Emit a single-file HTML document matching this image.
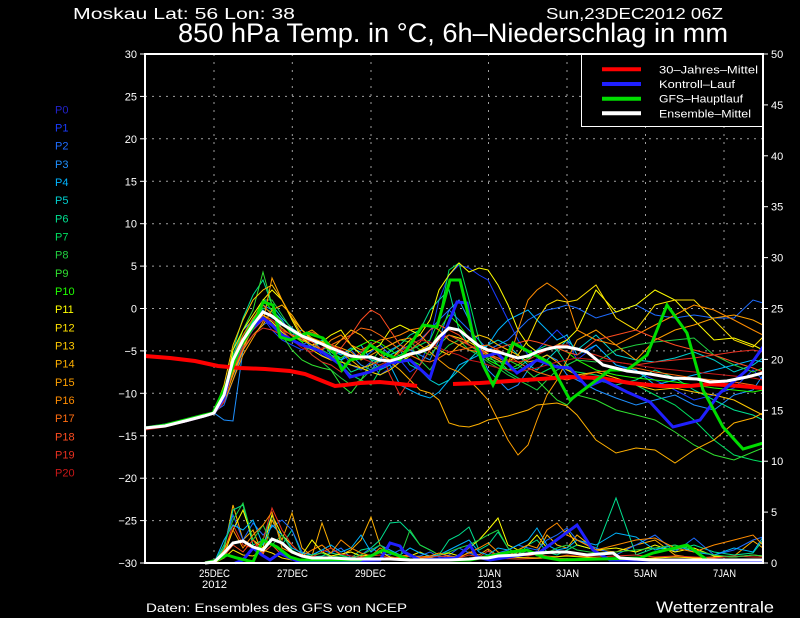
<!DOCTYPE html>
<html><head><meta charset="utf-8"><style>
html,body{margin:0;padding:0;background:#000;}
svg{display:block;}
text{font-family:"Liberation Sans",sans-serif;fill:#fff;}
</style></head><body>
<svg width="800" height="618" viewBox="0 0 800 618" xmlns="http://www.w3.org/2000/svg">
<rect x="0" y="0" width="800" height="618" fill="#000"/>
<!-- titles -->
<text x="73" y="19" font-size="16" textLength="222" lengthAdjust="spacingAndGlyphs">Moskau  Lat: 56 Lon: 38</text>
<text x="546" y="19" font-size="16" textLength="177" lengthAdjust="spacingAndGlyphs">Sun,23DEC2012 06Z</text>
<text x="178" y="42" font-size="27" textLength="550" lengthAdjust="spacingAndGlyphs">850 hPa Temp. in °C, 6h–Niederschlag in mm</text>
<!-- grid -->
<g stroke="#a0a0a0" stroke-width="1" stroke-dasharray="2 5" fill="none">
<line x1="145" y1="96.4" x2="763" y2="96.4"/>
<line x1="145" y1="138.8" x2="763" y2="138.8"/>
<line x1="145" y1="181.3" x2="763" y2="181.3"/>
<line x1="145" y1="223.7" x2="763" y2="223.7"/>
<line x1="145" y1="266.1" x2="763" y2="266.1"/>
<line x1="145" y1="308.5" x2="763" y2="308.5"/>
<line x1="145" y1="350.9" x2="763" y2="350.9"/>
<line x1="145" y1="393.3" x2="763" y2="393.3"/>
<line x1="145" y1="435.8" x2="763" y2="435.8"/>
<line x1="145" y1="478.2" x2="763" y2="478.2"/>
<line x1="145" y1="520.6" x2="763" y2="520.6"/>
</g>
<g stroke="#a0a0a0" stroke-width="1" stroke-dasharray="2 6" fill="none">
<line x1="214" y1="54" x2="214" y2="563"/>
<line x1="292.3" y1="54" x2="292.3" y2="563"/>
<line x1="371" y1="54" x2="371" y2="563"/>
<line x1="488.5" y1="54" x2="488.5" y2="563"/>
<line x1="567" y1="54" x2="567" y2="563"/>
<line x1="645.5" y1="54" x2="645.5" y2="563"/>
<line x1="724" y1="54" x2="724" y2="563"/>
</g>
<!-- thin ensemble temperature lines -->
<g fill="none" stroke-width="1" stroke-linejoin="miter">
<polyline stroke="#1a3cff" points="145,428 165,425 185,421 204,416 214,414 224,400 233,370 243,345 253,330 263,318 272,330 282,340 292,345 302,350 312,345 322,355 331,360 341,350 351,365 361,370 371,362 380,375 390,368 400,360 410,372 420,365 430,340 439,300 449,275 459,265 469,268 479,275 488,280 498,300 508,320 518,340 528,355 537,350 547,340 557,330 567,340 577,360 596,345 616,365 636,372 655,380 675,390 694,400 714,395 734,388 753,370 763,380"/>
<polyline stroke="#1e6cff" points="145,429 165,426 185,422 204,416 214,412 224,405 233,380 243,350 253,335 263,325 272,320 282,330 292,340 302,345 312,340 322,350 331,345 341,355 351,350 361,360 371,352 380,345 390,355 400,350 410,345 420,340 430,330 439,320 449,310 459,320 469,330 479,340 488,350 498,345 508,340 518,330 528,320 537,315 547,310 557,308 567,305 577,308 596,318 616,312 636,305 655,315 675,318 694,315 714,318 734,318 753,300 763,303"/>
<polyline stroke="#1e90ff" points="145,428 165,425 185,421 204,417 214,413 224,420 233,421 243,350 253,320 263,305 272,310 282,320 292,335 302,330 312,340 322,345 331,350 341,360 351,355 361,365 371,370 380,360 390,350 400,345 410,350 420,355 430,360 439,340 449,310 459,300 469,320 479,350 488,370 498,380 508,390 518,385 528,370 537,360 547,355 557,360 567,375 577,380 596,390 616,398 636,405 655,400 675,395 694,405 714,410 734,395 753,390 763,375"/>
<polyline stroke="#00b4ff" points="145,429 165,426 185,421 204,416 214,412 224,390 233,355 243,330 253,320 263,310 272,318 282,322 292,332 302,338 312,348 322,340 331,355 341,360 351,350 361,345 371,360 380,370 390,365 400,385 410,390 420,395 430,398 439,392 449,380 459,365 469,360 479,355 488,345 498,330 508,320 518,315 528,310 537,320 547,330 557,340 567,335 577,355 596,345 616,365 636,370 655,385 675,380 694,375 714,370 734,365 753,360 763,362"/>
<polyline stroke="#00d0d0" points="145,428 165,425 185,420 204,416 214,414 224,395 233,365 243,340 253,322 263,300 272,305 282,318 292,328 302,335 312,338 322,345 331,350 341,355 351,348 361,352 371,360 380,362 390,355 400,350 410,365 420,370 430,380 439,385 449,380 459,370 469,360 479,350 488,345 498,340 508,345 518,355 528,365 537,370 547,360 557,350 567,340 577,350 596,335 616,355 636,360 655,362 675,358 694,352 714,360 734,372 753,365 763,358"/>
<polyline stroke="#00e090" points="145,428 165,425 185,421 204,416 214,413 224,398 233,350 243,318 253,295 263,280 272,305 282,330 292,340 302,345 312,350 322,340 331,352 341,360 351,372 361,368 371,365 380,358 390,352 400,345 410,335 420,330 430,310 439,300 449,290 459,330 469,345 479,350 488,355 498,360 508,370 518,368 528,360 537,350 547,345 557,350 567,365 577,375 596,380 616,385 636,380 655,370 675,378 694,390 714,400 734,410 753,415 763,420"/>
<polyline stroke="#00e060" points="145,429 165,425 185,421 204,416 214,413 224,392 233,355 243,335 253,320 263,308 272,312 282,325 292,332 302,340 312,345 322,350 331,355 341,365 351,375 361,380 371,385 380,370 390,360 400,355 410,350 420,345 430,340 439,320 449,270 459,263 469,300 479,340 488,355 498,365 508,372 518,378 528,382 537,375 547,370 557,365 567,370 577,372 596,375 616,380 636,385 655,395 675,405 694,420 714,440 734,455 753,460 763,462"/>
<polyline stroke="#20d040" points="145,428 165,426 185,421 204,416 214,414 224,400 233,368 243,342 253,325 263,300 272,300 282,315 292,330 302,342 312,355 322,362 331,370 341,378 351,385 361,380 371,370 380,365 390,360 400,352 410,345 420,360 430,370 439,355 449,345 459,340 469,350 479,355 488,362 498,368 508,375 518,380 528,385 537,390 547,380 557,370 567,365 577,360 596,362 616,350 636,345 655,342 675,340 694,338 714,355 734,365 753,372 763,368"/>
<polyline stroke="#30e030" points="145,428 165,425 185,421 204,416 214,413 224,395 233,358 243,330 253,310 263,272 272,305 282,335 292,350 302,360 312,365 322,368 331,370 341,385 351,393 361,380 371,362 380,350 390,345 400,340 410,342 420,350 430,355 439,345 449,335 459,340 469,345 479,352 488,358 498,362 508,360 518,365 528,372 537,380 547,390 557,400 567,405 577,395 596,400 616,410 636,415 655,420 675,432 694,445 714,455 734,460 753,452 763,448"/>
<polyline stroke="#20ff00" points="145,427 165,425 185,420 204,415 214,412 224,398 233,360 243,338 253,320 263,300 272,310 282,322 292,335 302,342 312,338 322,345 331,352 341,358 351,350 361,345 371,340 380,343 390,350 400,356 410,360 420,365 430,350 439,330 449,315 459,325 469,338 479,350 488,360 498,365 508,370 518,365 528,358 537,352 547,350 557,348 567,352 577,360 596,370 616,375 636,378 655,380 675,382 694,385 714,388 734,390 753,392 763,390"/>
<polyline stroke="#ffff00" points="145,428 165,425 185,420 204,415 214,413 224,395 233,350 243,330 253,315 263,300 272,290 282,300 292,320 302,338 312,345 322,342 331,335 341,330 351,345 361,355 371,350 380,345 390,330 400,325 410,330 420,335 430,320 439,290 449,275 459,263 469,272 479,268 488,270 498,285 508,305 518,330 528,345 537,352 547,350 557,345 567,340 577,330 596,290 616,312 636,305 655,290 675,300 694,320 714,340 734,338 753,345 763,350"/>
<polyline stroke="#ffe000" points="145,429 165,426 185,422 204,417 214,414 224,400 233,372 243,348 253,328 263,315 272,322 282,332 292,340 302,345 312,350 322,356 331,360 341,362 351,365 361,368 371,372 380,375 390,370 400,362 410,356 420,350 430,345 439,340 449,335 459,338 469,342 479,348 488,354 498,358 508,362 518,355 528,340 537,320 547,305 557,300 567,302 577,300 596,285 616,318 636,330 655,305 675,300 694,300 714,320 734,340 753,347 763,337"/>
<polyline stroke="#ffc800" points="145,428 165,425 185,420 204,415 214,412 224,385 233,345 243,320 253,300 263,290 272,285 282,300 292,318 302,330 312,340 322,345 331,350 341,340 351,330 361,335 371,345 380,355 390,360 400,350 410,340 420,335 430,345 439,350 449,355 459,345 469,340 479,335 488,338 498,345 508,350 518,355 528,362 537,360 547,355 557,362 567,370 577,375 596,372 616,378 636,385 655,390 675,388 694,392 714,395 734,400 753,410 763,415"/>
<polyline stroke="#ffb000" points="145,429 165,426 185,421 204,416 214,413 224,400 233,375 243,350 253,335 263,325 272,310 282,305 292,315 302,330 312,338 322,342 331,345 341,352 351,360 361,368 371,365 380,360 390,362 400,370 410,380 420,390 430,393 439,400 449,423 459,426 469,427 479,424 488,420 498,418 508,416 518,413 528,410 537,405 547,404 557,403 567,406 577,415 596,440 616,453 636,448 655,450 675,463 694,450 714,440 734,423 753,418 763,413"/>
<polyline stroke="#ffa000" points="145,428 165,425 185,421 204,416 214,414 224,402 233,380 243,355 253,338 263,322 272,278 282,300 292,318 302,335 312,330 322,338 331,345 341,348 351,352 361,360 371,355 380,350 390,345 400,340 410,338 420,345 430,352 439,360 449,368 459,372 469,380 479,390 488,400 498,420 508,440 518,455 528,445 537,420 547,395 557,380 567,360 577,340 596,330 616,345 636,360 655,340 675,330 694,325 714,318 734,315 753,320 763,325"/>
<polyline stroke="#ff8c00" points="145,428 165,425 185,421 204,416 214,413 224,395 233,362 243,340 253,325 263,315 272,320 282,328 292,336 302,340 312,345 322,350 331,340 341,335 351,345 361,350 371,345 380,340 390,338 400,335 410,330 420,328 430,325 439,330 449,340 459,345 469,350 479,352 488,355 498,360 508,365 518,330 528,300 537,290 547,283 557,290 567,300 577,330 596,340 616,345 636,335 655,325 675,315 694,305 714,310 734,320 753,330 763,335"/>
<polyline stroke="#ff6c10" points="145,429 165,426 185,421 204,416 214,412 224,395 233,358 243,335 253,318 263,305 272,315 282,325 292,330 302,335 312,332 322,338 331,345 341,340 351,335 361,328 371,330 380,335 390,342 400,350 410,355 420,360 430,362 439,358 449,352 459,350 469,348 479,346 488,345 498,350 508,355 518,362 528,368 537,372 547,375 557,378 567,380 577,377 596,372 616,370 636,368 655,372 675,375 694,378 714,380 734,382 753,385 763,388"/>
<polyline stroke="#ff4c20" points="145,429 165,426 185,422 204,417 214,413 224,398 233,365 243,345 253,330 263,320 272,325 282,330 292,335 302,338 312,342 322,350 331,360 341,348 351,335 361,320 371,310 380,315 390,330 400,345 410,350 420,342 430,330 439,325 449,330 459,335 469,345 479,350 488,352 498,348 508,345 518,343 528,340 537,342 547,345 557,348 567,352 577,355 596,340 616,335 636,330 655,338 675,345 694,350 714,355 734,362 753,368 763,372"/>
<polyline stroke="#e83020" points="145,429 165,426 185,422 204,417 214,414 224,402 233,370 243,348 253,335 263,328 272,330 282,335 292,340 302,345 312,355 322,362 331,365 341,372 351,360 361,352 371,345 380,350 390,375 400,395 410,380 420,365 430,350 439,340 449,335 459,340 469,345 479,350 488,355 498,358 508,360 518,362 528,360 537,355 547,350 557,345 567,345 577,350 596,355 616,362 636,365 655,362 675,360 694,358 714,355 734,352 753,350 763,352"/>
<polyline stroke="#c81818" points="145,430 165,427 185,422 204,417 214,413 224,397 233,360 243,338 253,325 263,318 272,320 282,330 292,340 302,348 312,352 322,348 331,345 341,350 351,355 361,358 371,362 380,365 390,360 400,352 410,345 420,340 430,342 439,348 449,352 459,355 469,360 479,362 488,365 498,368 508,370 518,372 528,370 537,368 547,365 557,362 567,360 577,358 596,360 616,362 636,365 655,368 675,370 694,372 714,374 734,376 753,378 763,380"/>
</g>
<!-- thin precipitation lines -->
<g fill="none" stroke-width="1">
<polyline stroke="#ffb000" points="205,563 214,563 224,550 233,505 243,540 253,530 263,555 272,520 282,540 292,513 302,548 312,556 322,523 331,548 341,555 351,550 361,540 371,517 380,545 390,553 400,557 410,555 420,558 430,557 439,560 449,556 459,558 469,552 479,555 488,549 498,556 508,557 518,552 528,555 537,553 547,535 557,545 567,548 577,535 596,550 616,552 636,545 655,540 675,555 694,558 714,557 734,556 753,541 763,548"/>
<polyline stroke="#00e090" points="205,563 214,563 224,548 233,510 243,505 253,545 263,540 272,515 282,545 292,530 302,555 312,557 322,556 331,553 341,555 351,558 361,550 371,548 380,540 390,523 400,522 410,532 420,545 430,550 439,555 449,540 459,535 469,527 479,550 488,545 498,532 508,548 518,555 528,545 537,540 547,552 557,555 567,550 577,545 596,550 616,498 636,555 655,548 675,550 694,545 714,552 734,555 753,553 763,540"/>
<polyline stroke="#1e6cff" points="205,563 214,563 224,545 233,515 243,540 253,523 263,535 272,527 282,520 292,530 302,552 312,555 322,550 331,553 341,548 351,558 361,555 371,548 380,553 390,555 400,550 410,557 420,556 430,552 439,557 449,555 459,548 469,553 479,557 488,556 498,553 508,550 518,545 528,548 537,550 547,540 557,535 567,528 577,540 596,548 616,555 636,545 655,535 675,552 694,538 714,555 734,550 753,540 763,537"/>
<polyline stroke="#ffff00" points="205,563 214,563 224,555 233,530 243,510 253,540 263,548 272,515 282,535 292,545 302,555 312,540 322,552 331,556 341,554 351,552 361,556 371,555 380,552 390,557 400,558 410,556 420,552 430,557 439,555 449,553 459,556 469,548 479,540 488,530 498,518 508,545 518,550 528,545 537,535 547,548 557,540 567,530 577,545 596,550 616,548 636,552 655,545 675,552 694,548 714,556 734,557 753,555 763,556"/>
<polyline stroke="#e83020" points="205,563 214,563 224,552 233,525 243,545 253,548 263,540 272,508 282,530 292,545 302,555 312,557 322,552 331,548 341,554 351,556 361,557 371,556 380,555 390,558 400,557 410,556 420,558 430,557 439,556 449,557 459,558 469,555 479,557 488,551 498,556 508,557 518,555 528,556 537,554 547,556 557,557 567,555 577,556 596,557 616,556 636,555 655,557 675,556 694,557 714,558 734,556 753,557 763,557"/>
<polyline stroke="#00b4ff" points="205,563 214,563 224,540 233,525 243,530 253,520 263,545 272,525 282,535 292,548 302,553 312,555 322,550 331,545 341,552 351,548 361,535 371,552 380,545 390,550 400,555 410,548 420,553 430,556 439,555 449,550 459,545 469,540 479,552 488,555 498,548 508,550 518,545 528,540 537,528 547,545 557,550 567,548 577,540 596,545 616,533 636,537 655,550 675,545 694,552 714,555 734,548 753,552 763,537"/>
<polyline stroke="#20d040" points="205,563 214,563 224,545 233,520 243,503 253,540 263,525 272,545 282,535 292,550 302,556 312,555 322,553 331,557 341,556 351,558 361,555 371,550 380,545 390,552 400,557 410,530 420,545 430,550 439,555 449,552 459,548 469,545 479,540 488,535 498,530 508,548 518,555 528,550 537,556 547,553 557,548 567,545 577,550 596,553 616,552 636,550 655,548 675,545 694,550 714,555 734,557 753,555 763,556"/>
<polyline stroke="#ff8c00" points="205,563 214,563 224,550 233,530 243,548 253,535 263,525 272,512 282,548 292,553 302,556 312,550 322,545 331,553 341,540 351,548 361,553 371,556 380,548 390,553 400,556 410,555 420,557 430,556 439,553 449,556 459,557 469,553 479,548 488,543 498,552 508,556 518,550 528,545 537,548 547,530 557,523 567,535 577,540 596,550 616,545 636,540 655,538 675,548 694,552 714,545 734,540 753,535 763,545"/>
<polyline stroke="#ff4c20" points="214,563 224,556 233,545 243,552 253,540 263,553 272,545 282,555 292,558 302,560 331,559 361,558 390,560 430,559 459,560 488,558 518,559 547,558 577,559 616,560 655,559 694,560 734,559 763,560"/>
<polyline stroke="#ffe000" points="214,563 224,558 233,550 243,555 253,556 263,550 272,553 282,558 292,560 331,560 361,559 400,560 430,558 469,559 498,557 537,558 567,556 596,558 636,559 675,557 714,559 763,559"/>
</g>
<!-- 30-year mean -->
<g fill="none" stroke="#ff0000" stroke-width="4">
<polyline points="145,356 170,358 195,361 218,366 240,368 265,369 290,371 305,374 320,380 335,386 345,385 360,383 380,382 400,384 417,386"/>
<polyline points="453,384 480,383 510,381 540,379 570,377 600,378 630,383 660,386 690,386 710,384 740,386 763,388"/>
</g>
<!-- control run -->
<g fill="none" stroke="#2020ff" stroke-width="3">
<polyline points="145,428 165,425 185,421 204,416 214,413 224,398 233,362 243,342 253,328 263,318 272,325 282,335 292,340 302,345 312,348 322,352 331,358 341,365 350,377 370,372 390,363 410,360 430,378 443,337 457,302 467,303 473,337 483,357 497,353 517,373 537,360 557,367 570,368 587,387 603,380 627,392 650,402 673,427 700,420 720,393 747,370 763,347"/>
<polyline points="235,563 243,560 253,548 262,555 270,560 280,553 290,558 300,562 380,560 390,543 400,546 404,552 420,560 455,558 460,555 470,545 477,557 490,560 540,552 577,525 593,550 610,560 763,561"/>
</g>
<!-- GFS main -->
<g fill="none" stroke="#00dd00" stroke-width="3">
<polyline points="145,428 165,425 185,420 204,415 213,413 227,383 240,347 253,327 263,302 273,305 280,337 290,340 307,333 323,338 333,350 342,370 350,360 360,358 370,345 383,353 400,360 410,345 423,325 437,327 450,280 460,280 473,335 483,365 493,385 513,343 550,363 570,400 610,370 627,370 647,355 667,305 687,333 703,390 723,427 743,449 763,443"/>
<polyline points="205,563 217,560 227,555 237,558 253,562 263,540 277,547 290,557 300,560 360,560 373,555 383,550 397,555 410,560 470,560 490,556 510,552 527,550 543,557 560,560 640,558 653,553 687,545 707,560 763,560"/>
</g>
<!-- ensemble mean -->
<g fill="none" stroke="#ffffff" stroke-width="3">
<polyline points="145,428 165,426 185,421 204,416 214,413 224,395 233,360 243,340 253,325 263,312 272,316 282,324 292,330 302,336 312,340 322,344 331,348 341,352 351,356 361,357 371,357 380,360 390,361 400,358 410,354 420,352 430,348 439,337 449,328 459,330 469,338 479,346 488,350 498,352 508,355 518,358 528,356 537,352 547,349 557,347 567,347 577,349 587,352 603,365 627,371 650,374 673,378 697,379 710,382 727,381 747,377 763,373"/>
<polyline points="205,563 214,562 224,553 233,543 243,541 253,547 263,550 272,539 282,543 292,552 302,556 312,558 331,558 351,559 371,559 390,559 410,560 430,560 449,560 469,559 479,558 488,558 498,556 518,555 537,553 557,552 567,552 587,555 613,553 620,558 650,560 763,560"/>
</g>
<!-- frame -->
<g stroke="#fff" fill="none">
<line x1="145" y1="53" x2="145" y2="564" stroke-width="2"/>
<line x1="763" y1="53" x2="763" y2="564" stroke-width="2"/>
<line x1="144" y1="54" x2="764" y2="54" stroke-width="2"/>
<line x1="144" y1="563" x2="764" y2="563" stroke-width="2"/>
</g>
<g stroke="#fff" stroke-width="1">
<line x1="140" y1="54" x2="145" y2="54"/><line x1="140" y1="96.4" x2="145" y2="96.4"/><line x1="140" y1="138.8" x2="145" y2="138.8"/><line x1="140" y1="181.3" x2="145" y2="181.3"/><line x1="140" y1="223.7" x2="145" y2="223.7"/><line x1="140" y1="266.1" x2="145" y2="266.1"/><line x1="140" y1="308.5" x2="145" y2="308.5"/><line x1="140" y1="350.9" x2="145" y2="350.9"/><line x1="140" y1="393.3" x2="145" y2="393.3"/><line x1="140" y1="435.8" x2="145" y2="435.8"/><line x1="140" y1="478.2" x2="145" y2="478.2"/><line x1="140" y1="520.6" x2="145" y2="520.6"/><line x1="140" y1="563" x2="145" y2="563"/>
<line x1="763" y1="54" x2="768" y2="54"/><line x1="763" y1="104.9" x2="768" y2="104.9"/><line x1="763" y1="155.8" x2="768" y2="155.8"/><line x1="763" y1="206.7" x2="768" y2="206.7"/><line x1="763" y1="257.6" x2="768" y2="257.6"/><line x1="763" y1="308.5" x2="768" y2="308.5"/><line x1="763" y1="359.4" x2="768" y2="359.4"/><line x1="763" y1="410.3" x2="768" y2="410.3"/><line x1="763" y1="461.2" x2="768" y2="461.2"/><line x1="763" y1="512.1" x2="768" y2="512.1"/><line x1="763" y1="563" x2="768" y2="563"/>
</g>
<!-- left axis labels -->
<g font-size="11" text-anchor="end">
<text x="137" y="58">30</text><text x="137" y="100.4">25</text><text x="137" y="142.8">20</text><text x="137" y="185.3">15</text><text x="137" y="227.7">10</text><text x="137" y="270.1">5</text><text x="137" y="312.5">0</text><text x="137" y="354.9">−5</text><text x="137" y="397.3">−10</text><text x="137" y="439.8">−15</text><text x="137" y="482.2">−20</text><text x="137" y="524.6">−25</text><text x="137" y="567">−30</text>
</g>
<!-- right axis labels -->
<g font-size="11">
<text x="771" y="58">50</text><text x="771" y="108.9">45</text><text x="771" y="159.8">40</text><text x="771" y="210.7">35</text><text x="771" y="261.6">30</text><text x="771" y="312.5">25</text><text x="771" y="363.4">20</text><text x="771" y="414.3">15</text><text x="771" y="465.2">10</text><text x="771" y="516.1">5</text><text x="771" y="567">0</text>
</g>
<!-- x labels -->
<g font-size="11">
<text x="199" y="577" textLength="31" lengthAdjust="spacingAndGlyphs">25DEC</text>
<text x="202" y="588" textLength="25" lengthAdjust="spacingAndGlyphs">2012</text>
<text x="277" y="577" textLength="31" lengthAdjust="spacingAndGlyphs">27DEC</text>
<text x="355" y="577" textLength="31" lengthAdjust="spacingAndGlyphs">29DEC</text>
<text x="478" y="577" textLength="23" lengthAdjust="spacingAndGlyphs">1JAN</text>
<text x="477" y="588" textLength="25" lengthAdjust="spacingAndGlyphs">2013</text>
<text x="556" y="577" textLength="23" lengthAdjust="spacingAndGlyphs">3JAN</text>
<text x="634" y="577" textLength="23" lengthAdjust="spacingAndGlyphs">5JAN</text>
<text x="713" y="577" textLength="23" lengthAdjust="spacingAndGlyphs">7JAN</text>
</g>
<text x="146" y="612" font-size="12" textLength="261" lengthAdjust="spacingAndGlyphs">Daten: Ensembles des GFS von NCEP</text>
<text x="656" y="612.5" font-size="16" textLength="118" lengthAdjust="spacingAndGlyphs">Wetterzentrale</text>
<!-- P labels -->
<g font-size="11">
<text x="55" y="113.3" style="fill:#2222cc">P0</text>
<text x="55" y="131.5" style="fill:#1a3cff">P1</text>
<text x="55" y="149.6" style="fill:#1e6cff">P2</text>
<text x="55" y="167.8" style="fill:#1e90ff">P3</text>
<text x="55" y="186" style="fill:#00b4ff">P4</text>
<text x="55" y="204.2" style="fill:#00d0d0">P5</text>
<text x="55" y="222.3" style="fill:#00e090">P6</text>
<text x="55" y="240.5" style="fill:#00e060">P7</text>
<text x="55" y="258.7" style="fill:#20d040">P8</text>
<text x="55" y="276.8" style="fill:#30e030">P9</text>
<text x="55" y="295" style="fill:#20ff00">P10</text>
<text x="55" y="313.2" style="fill:#ffff00">P11</text>
<text x="55" y="331.3" style="fill:#ffe000">P12</text>
<text x="55" y="349.5" style="fill:#ffc800">P13</text>
<text x="55" y="367.7" style="fill:#ffb000">P14</text>
<text x="55" y="385.9" style="fill:#ffa000">P15</text>
<text x="55" y="404" style="fill:#ff8c00">P16</text>
<text x="55" y="422.2" style="fill:#ff6c10">P17</text>
<text x="55" y="440.4" style="fill:#ff4c20">P18</text>
<text x="55" y="458.5" style="fill:#e83020">P19</text>
<text x="55" y="476.7" style="fill:#c81818">P20</text>
</g>
<!-- legend -->
<rect x="581.5" y="54.5" width="181" height="72" fill="#000" stroke="#fff" stroke-width="1"/>
<g stroke-width="4">
<line x1="602" y1="69.3" x2="641" y2="69.3" stroke="#ff0000"/>
<line x1="602" y1="84" x2="641" y2="84" stroke="#2020ff"/>
<line x1="602" y1="98.7" x2="641" y2="98.7" stroke="#00dd00"/>
<line x1="602" y1="113.3" x2="641" y2="113.3" stroke="#ffffff"/>
</g>
<g font-size="11">
<text x="659" y="73.3" textLength="99" lengthAdjust="spacingAndGlyphs">30–Jahres–Mittel</text>
<text x="659" y="88" textLength="76" lengthAdjust="spacingAndGlyphs">Kontroll–Lauf</text>
<text x="659" y="102.7" textLength="84" lengthAdjust="spacingAndGlyphs">GFS–Hauptlauf</text>
<text x="659" y="117.3" textLength="92" lengthAdjust="spacingAndGlyphs">Ensemble–Mittel</text>
</g>
</svg>
</body></html>
